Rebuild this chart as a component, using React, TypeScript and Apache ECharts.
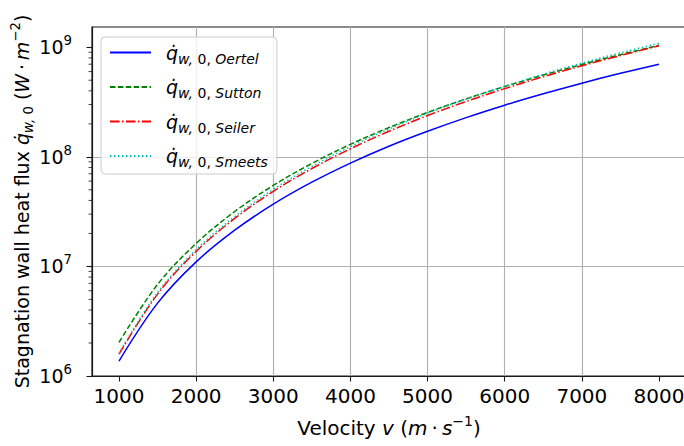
import React, { useEffect, useRef } from "react";
import * as echarts from "echarts";

const velocity = [1000, 1500, 2000, 2500, 3000, 3500, 4000, 4500, 5000, 5500, 6000, 6500, 7000, 7500, 8000];
const qOertel = [1.37e6, 4.62e6, 1.1e7, 2.14e7, 3.7e7, 5.87e7, 8.77e7, 1.25e8, 1.71e8, 2.28e8, 2.96e8, 3.76e8, 4.7e8, 5.78e8, 7.01e8];
const qSutton = [2.03e6, 6.85e6, 1.62e7, 3.17e7, 5.48e7, 8.7e7, 1.3e8, 1.85e8, 2.54e8, 3.38e8, 4.38e8, 5.57e8, 6.96e8, 8.56e8, 1.04e9];
const qSeiler = [1.58e6, 5.59e6, 1.37e7, 2.74e7, 4.84e7, 7.82e7, 1.185e8, 1.71e8, 2.38e8, 3.2e8, 4.19e8, 5.38e8, 6.78e8, 8.4e8, 1.03e9];
const qSmeets = [1.62e6, 5.76e6, 1.42e7, 2.85e7, 5.05e7, 8.17e7, 1.24e8, 1.79e8, 2.5e8, 3.36e8, 4.41e8, 5.67e8, 7.16e8, 8.89e8, 1.087e9];

const seriesNames = ["Oertel", "Sutton", "Seiler", "Smeets"];
const xTicks = [1000, 2000, 3000, 4000, 5000, 6000, 7000, 8000];
const yTicks = [1e6, 1e7, 1e8, 1e9];
const yMinorTicks = [
  2e6, 3e6, 4e6, 5e6, 6e6, 7e6, 8e6, 9e6,
  2e7, 3e7, 4e7, 5e7, 6e7, 7e7, 8e7, 9e7,
  2e8, 3e8, 4e8, 5e8, 6e8, 7e8, 8e8, 9e8,
];
const X_MIN = 650;
const X_MAX = 8350;
const Y_MIN = 1e6;
const Y_MAX = 1.53e9;

const FONT = "DejaVu Sans";
const FS = 19;
const FS_SUB = 13.3;
const FSX = 20;
const FSX_SUB = 14;

export default function App() {
  const ref = useRef<HTMLDivElement>(null);
  useEffect(() => {
    if (!ref.current) return;
    const chart = echarts.init(ref.current, undefined, { renderer: "svg" });
    const mk = (vals: number[]) => velocity.map((v, i) => [v, vals[i]]);
    const richY = {
      n: { fontFamily: FONT, fontSize: FS, lineHeight: 26, verticalAlign: "middle", color: "#000" },
      i: { fontFamily: FONT, fontSize: FS, fontStyle: "italic", lineHeight: 26, verticalAlign: "middle", color: "#000" },
      sb: { fontFamily: FONT, fontSize: FS_SUB, fontStyle: "italic", lineHeight: 14, verticalAlign: "bottom", color: "#000" },
      su: { fontFamily: FONT, fontSize: FS_SUB, lineHeight: 14, verticalAlign: "bottom", color: "#000" },
      sp: { fontFamily: FONT, fontSize: FS_SUB, lineHeight: 14, verticalAlign: "top", color: "#000" },
    };
    const richX = {
      n: { fontFamily: FONT, fontSize: FSX, lineHeight: 27, verticalAlign: "middle", color: "#000" },
      i: { fontFamily: FONT, fontSize: FSX, fontStyle: "italic", lineHeight: 27, verticalAlign: "middle", color: "#000" },
      sp: { fontFamily: FONT, fontSize: FSX_SUB, lineHeight: 15, verticalAlign: "top", color: "#000" },
    };
    const LFS_SUB = 14;
    const lineBase = { type: "line", showSymbol: false, symbol: "none", smooth: 0.35 };
    const option: any = {
      animation: false,
      backgroundColor: "#fff",
      grid: {
        left: 92,
        top: 27,
        width: 594,
        height: 349,
        outerBoundsMode: "none",
        containLabel: false,
        show: true,
        borderColor: "#1a1a1a",
        borderWidth: 1.2,
        backgroundColor: "transparent",
      },
      legend: {
        orient: "vertical",
        left: 101,
        top: 37,
        padding: [6, 9, 5, 8],
        itemWidth: 41,
        itemHeight: 14,
        itemGap: 12,
        backgroundColor: "rgba(255,255,255,0.8)",
        borderColor: "#cccccc",
        borderWidth: 1,
        borderRadius: 4,
        itemStyle: { opacity: 0 },
        data: seriesNames,
        formatter: (name: string) => `{q|q\u0307}{sb|w, }{su|0, }{sb|${name}}`,
        textStyle: {
          fontFamily: FONT,
          fontSize: FS,
          rich: {
            q: { fontFamily: FONT, fontSize: FS, fontStyle: "italic", lineHeight: 26, verticalAlign: "middle", padding: [0, 0, 0, 10], color: "#000" },
            sb: { fontFamily: FONT, fontSize: LFS_SUB, fontStyle: "italic", lineHeight: 14, verticalAlign: "bottom", color: "#000" },
            su: { fontFamily: FONT, fontSize: LFS_SUB, lineHeight: 14, verticalAlign: "bottom", color: "#000" },
          },
        },
      },
      xAxis: {
        type: "value",
        min: X_MIN,
        max: X_MAX,
        splitNumber: 8,
        name: "{n|Velocity }{i|v}{n| (}{i|m}{n|\u2009·\u2009}{i|s}{sp|\u22121}{n|)}",
        nameLocation: "middle",
        nameGap: 38,
        nameMoveOverlap: false,
        nameTextStyle: { fontFamily: FONT, fontSize: FSX, color: "#000", rich: richX },
        axisLine: { show: true, lineStyle: { color: "#1a1a1a", width: 1.2 } },
        axisTick: { show: true, inside: false, length: 5.5, customValues: xTicks, lineStyle: { color: "#1a1a1a", width: 1.1 } },
        axisLabel: {
          show: true,
          customValues: xTicks,
          margin: 10,
          formatter: (v: number) => String(v),
          fontFamily: FONT,
          fontSize: FSX,
          color: "#000",
        },
        splitLine: { show: true, showMinLine: false, showMaxLine: false, lineStyle: { color: "#b0b0b0", width: 1.1 } },
      },
      yAxis: {
        type: "log",
        logBase: 10,
        min: Y_MIN,
        max: Y_MAX,
        name: "{n|Stagnation wall heat flux }{i|q\u0307}{sb|w, }{su|0}{n| (}{i|W}{n|\u2009·\u2009}{i|m}{sp|\u22122}{n|)}",
        nameLocation: "middle",
        nameRotate: 90,
        nameGap: 57,
        nameMoveOverlap: false,
        nameTextStyle: { fontFamily: FONT, fontSize: FS, color: "#000", rich: richY },
        axisLine: { show: true, lineStyle: { color: "#1a1a1a", width: 1.2 } },
        axisTick: { show: true, inside: false, length: 5.5, customValues: yTicks, lineStyle: { color: "#1a1a1a", width: 1.1 } },
        axisLabel: {
          show: true,
          customValues: yTicks,
          margin: 20,
          formatter: (v: number) => `{b|10}{e|${Math.round(Math.log10(v))}}`,
          rich: {
            b: { fontFamily: FONT, fontSize: FS, lineHeight: 26, verticalAlign: "middle", color: "#000" },
            e: { fontFamily: FONT, fontSize: FS_SUB, lineHeight: 14, verticalAlign: "top", color: "#000" },
          },
        },
        splitLine: { show: true, showMinLine: false, showMaxLine: false, lineStyle: { color: "#b0b0b0", width: 1.1 } },
      },
      series: [
        {
          ...lineBase,
          name: "Oertel",
          data: mk(qOertel),
          lineStyle: { color: "#0000ff", width: 1.5, type: "solid" },
          itemStyle: { color: "#0000ff" },
        },
        {
          ...lineBase,
          name: "Sutton",
          data: mk(qSutton),
          lineStyle: { color: "#008000", width: 1.5, type: [5.5, 2.4] },
          itemStyle: { color: "#008000" },
        },
        {
          ...lineBase,
          name: "Seiler",
          data: mk(qSeiler),
          lineStyle: { color: "#ff0000", width: 1.5, type: [9.6, 2.4, 1.5, 2.4] },
          itemStyle: { color: "#ff0000" },
        },
        {
          ...lineBase,
          name: "Smeets",
          data: mk(qSmeets),
          lineStyle: { color: "#00bfbf", width: 1.5, type: [1.5, 2.5] },
          itemStyle: { color: "#00bfbf" },
        },
        {
          name: "minorTicks",
          type: "custom",
          silent: true,
          clip: false,
          data: yMinorTicks.map((v) => [X_MIN, v]),
          renderItem: (params: any, api: any) => {
            const p = api.coord([api.value(0), api.value(1)]);
            return {
              type: "line",
              shape: { x1: p[0], y1: p[1], x2: p[0] - 3.5, y2: p[1] },
              style: { stroke: "#1a1a1a", lineWidth: 0.8 },
            };
          },
        },
      ],
    };
    chart.setOption(option);
    return () => chart.dispose();
  }, []);
  return (
    <div
      ref={ref}
      style={{ position: "fixed", left: 0, top: 0, width: 684, height: 446, background: "#fff" }}
    />
  );
}
